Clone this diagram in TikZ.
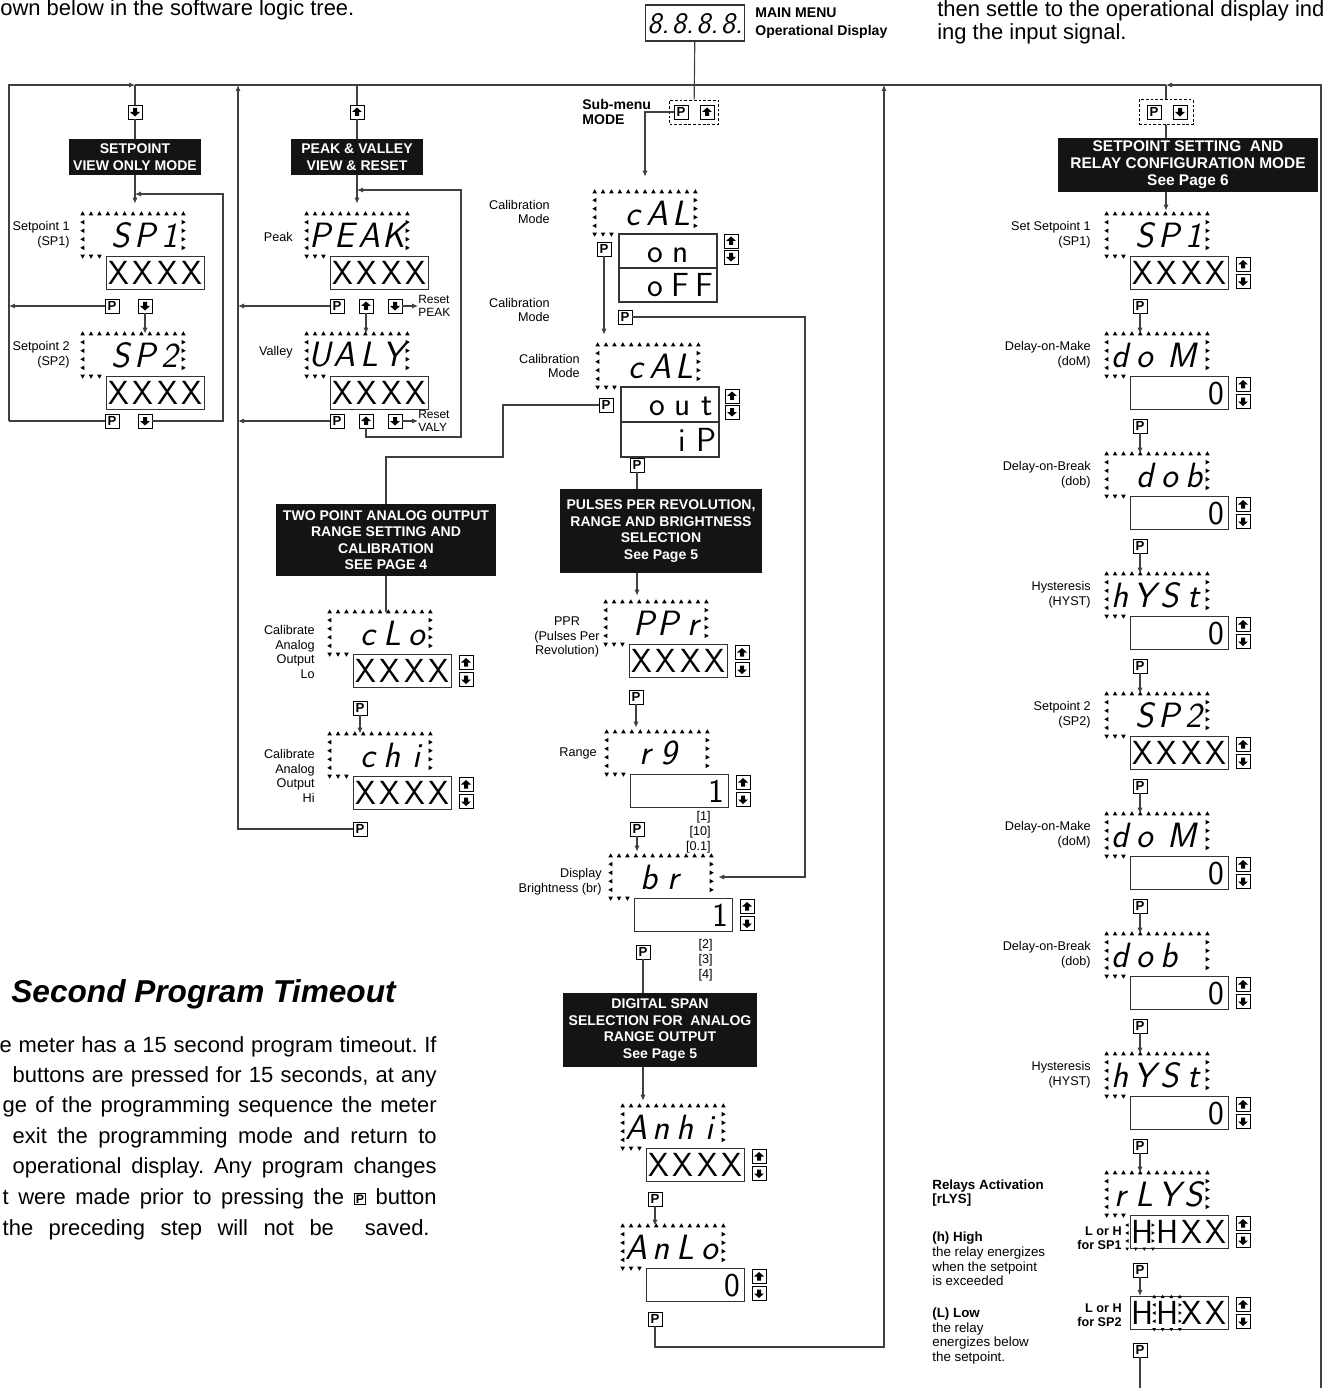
\documentclass[tikz,border=0pt]{standalone}
\usepackage{fontspec}
\setmainfont{Liberation Sans}
\usetikzlibrary{arrows.meta,calc}

% one digit cell of the meter display
\newcommand\cell[1]{\makebox[0.49cm]{\vphantom{X}#1}}
\newcommand\twocell[1]{\makebox[0.98cm]{\vphantom{X}#1}}
\newcommand\lcdX{\cell{X}\cell{X}\cell{X}\cell{X}}
\newcommand\lcdO{\cell{}\cell{}\cell{}\cell{0}}
\newcommand\lcdI{\cell{}\cell{}\cell{}\cell{1}}
\newcommand\pbtn{\raisebox{0.5pt}{\setlength\fboxsep{0.7pt}\setlength\fboxrule{0.5pt}\fbox{\fontsize{7}{7}\selectfont\bfseries P}}}

% flashing frame round a display node
\newcommand\flash[1]{%
  \foreach \i in {0,...,12} \pic at ($(#1.north west)!\i/12!(#1.north east)$) {tri};
  \foreach \i in {1,...,4} {
    \pic[rotate=90] at ($(#1.north west)!\i/5!(#1.south west)$) {tri};
    \pic[rotate=-90] at ($(#1.north east)!\i/5!(#1.south east)$) {tri};}
  \foreach \i in {0,1,2} \pic[rotate=180] at ($(#1.south west)!\i/12!(#1.south east)$) {tri};}
\newcommand\flashcell[1]{%
  \foreach \i in {1,2,3} {
    \pic[rotate=90,scale=0.8] at ($(#1.north west)!\i/4!(#1.south west)$) {tri};
    \pic[rotate=-90,scale=0.8] at ($(#1.north east)!\i/4!(#1.south east)$) {tri};}
  \foreach \i in {0,...,3} \pic[rotate=180,scale=0.8] at ($(#1.south west)!\i/3!(#1.south east)$) {tri};}
% display with its value box
\newcommand\menu[5]{%
  \node[dsp] (#1) at (#2,#3) {#4};
  \node[lcd] (#1v) at ($(#1)+(22.5,38)$) {#5};
  \flash{#1}}
\newcommand\updown[1]{%
  \node[upk] (#1u) at ($(#1v.east)+(14,-8.5)$) {};
  \node[dnk] (#1d) at ($(#1v.east)+(14,8.5)$) {};}

\tikzset{
  wire/.style={draw=black!75, line width=0.65pt},
  arr/.style={wire, -{Latex[length=1.2mm,width=1.05mm]}},
  key/.style={draw, line width=0.55pt, fill=white, minimum size=0.28cm, inner sep=0pt},
  pk/.style={key, font=\bfseries\fontsize{7.5}{7.5}\selectfont},
  upk/.style={key, path picture={\fill[black] ([yshift=0.09cm]path picture bounding box.center) -- ++(-0.1cm,-0.09cm) -- ++(0.06cm,0) -- ++(0,-0.08cm) -- ++(0.08cm,0) -- ++(0,0.08cm) -- ++(0.06cm,0) -- cycle;}},
  dnk/.style={key, path picture={\fill[black] ([yshift=-0.09cm]path picture bounding box.center) -- ++(-0.1cm,0.09cm) -- ++(0.06cm,0) -- ++(0,0.08cm) -- ++(0.08cm,0) -- ++(0,-0.08cm) -- ++(0.06cm,0) -- cycle;}},
  head/.style={fill=black!92, text=white, font=\bfseries\fontsize{8}{9.4}\selectfont, align=center, inner sep=0pt},
  dsp/.style={minimum width=2cm, minimum height=0.84cm, inner sep=0pt, font=\sffamily\slshape\fontsize{20}{20}\selectfont},
  lcd/.style={draw=black!80, line width=0.6pt, minimum width=1.94cm, minimum height=0.66cm, inner sep=0pt, font=\sffamily\fontsize{19}{19}\selectfont},
  lbl/.style={anchor=east, align=right, inner sep=0pt, font=\fontsize{7.2}{8.4}\selectfont},
  note/.style={anchor=west, align=left, inner sep=0pt, font=\fontsize{7.6}{8.3}\selectfont},
  dbox/.style={draw, line width=0.5pt, dash pattern=on 1.6pt off 1.1pt},
  tri/.pic={\fill (-2.3,1.7) -- (2.3,1.7) -- (0,-2.4) -- cycle;}
}

\begin{document}
\begin{tikzpicture}[x=0.02cm,y=-0.02cm]
\useasboundingbox (0,0) rectangle (1324,1388);

% page text
\node[anchor=base west, inner sep=0pt, font=\fontsize{12.5}{15}\selectfont] (intro) at (0,16) {own below in the software logic tree.};
\node[anchor=base west, inner sep=0pt, font=\fontsize{12.5}{15}\selectfont] (introR) at (937,17) {then settle to the operational display ind};
\node[anchor=base west, inner sep=0pt, font=\fontsize{12.5}{15}\selectfont] (introS) at (937,40) {ing the input signal.};

% main menu
\node[lcd, minimum width=1.98cm, minimum height=0.72cm, font=\sffamily\slshape\fontsize{17}{17}\selectfont] (main) at (695,23) {\cell{8.}\cell{8.}\cell{8.}\cell{8.}};
\node[anchor=base west, inner sep=0pt, font=\bfseries\fontsize{8}{9.6}\selectfont] (mainLbl) at (755,18) {MAIN MENU};
\node[anchor=base west, inner sep=0pt, font=\bfseries\fontsize{8}{9.6}\selectfont] (mainSub) at (755,36) {Operational Display};
\coordinate (busL) at (135,85);
\coordinate (busR) at (1166,85);
\draw[wire] (busL) -- (busR);

% setpoint view only
\node[dnk] (svDn) at (135,112) {};
\node[head, minimum width=2.66cm, minimum height=0.72cm] (svHead) at (135,157) {SETPOINT\\VIEW ONLY MODE};
\menu{svA}{133}{235}{\cell{}\cell{S}\cell{P}\cell{1}}{\lcdX}
\node[lbl] (svAl) at (70,235) {Setpoint 1\\(SP1)};
\node[pk] (svP1) at (112,306) {P};
\node[dnk] (svD1) at (145,306) {};
\menu{svB}{133}{355}{\cell{}\cell{S}\cell{P}\cell{2}}{\lcdX}
\node[lbl] (svBl) at (70,355) {Setpoint 2\\(SP2)};
\node[pk] (svP2) at (112,421) {P};
\node[dnk] (svD2) at (145,421) {};
\coordinate (svL1) at (9,306);
\coordinate (svL2) at (9,421);
\coordinate (svR) at (223,194);
\draw[wire] (busL) -- (svDn);
\draw[wire] (svDn) -- (svHead);
\draw[arr, shorten >=0.2cm] (svHead) -- (svHead |- svA.north);
\draw[arr] (svP1) -- (svL1);
\draw[arr] (svD1) -- (svD1 |- svB.north);
\draw[wire] (svP2) -- (svL2);
\draw[arr] (svL2) |- (busL);
\draw[arr] (svD2) -| (svR) -- (svHead.south |- svR);

% peak and valley
\coordinate (pvBus) at (357,85);
\node[upk] (pvUp) at (357,112) {};
\node[head, minimum width=2.66cm, minimum height=0.72cm] (pvHead) at (357,157) {PEAK \& VALLEY\\VIEW \& RESET};
\menu{pvA}{357}{235}{\cell{P}\cell{E}\cell{A}\cell{K}}{\lcdX}
\node[lbl] (pvAl) at (293,237) {Peak};
\node[pk] (pvP1) at (337,306) {P};
\node[upk] (pvU1) at (366,306) {};
\node[dnk] (pvD1) at (395,306) {};
\node[note, font=\fontsize{6.8}{7.4}\selectfont] (rstA) at (418,306) {Reset\\PEAK};
\menu{pvB}{357}{355}{\cell{U}\cell{A}\cell{L}\cell{Y}}{\lcdX}
\node[lbl] (pvBl) at (293,352) {Valley};
\node[pk] (pvP2) at (337,421) {P};
\node[upk] (pvU2) at (366,421) {};
\node[dnk] (pvD2) at (395,421) {};
\node[note, font=\fontsize{6.8}{7.4}\selectfont] (rstB) at (418,421) {Reset\\VALY};
\coordinate (pvTop) at (238,85);
\coordinate (pvL1) at (238,306);
\coordinate (pvL2) at (238,421);
\coordinate (pvLo) at (366,437);
\coordinate (pvRt) at (461,190);
\draw[wire] (pvBus) -- (pvUp);
\draw[wire] (pvUp) -- (pvHead);
\draw[arr, shorten >=0.2cm] (pvHead) -- (pvHead |- pvA.north);
\draw[arr] (pvP1) -- (pvL1);
\draw[arr] (pvD1) -- (rstA);
\draw[arr] (pvU1) -- (pvU1 |- pvB.north);
\draw[arr] (pvP2) -- (pvL2);
\draw[arr] (pvD2) -- (rstB);
\draw[arr] (pvU2) -- (pvLo) -| (pvRt) -- (pvHead.south |- pvRt);

% sub-menu and calibration
\node[dbox, minimum width=0.98cm, minimum height=0.48cm] (subBox) at (694,112) {};
\node[pk] (subP) at (681,112) {P};
\node[upk] (subU) at (707,112) {};
\node[anchor=west, align=left, inner sep=0pt, font=\bfseries\fontsize{8}{9}\selectfont] (subLbl) at (582,112) {Sub-menu\\MODE};
\draw[wire] (main) -- (subBox);
\node[dsp] (calA) at (645,213) {\cell{}\cell{c}\cell{A}\cell{L}};
\flash{calA}
\node[lcd, minimum height=0.68cm] (calAv) at (668,251) {\cell{}\cell{o}\cell{n}\cell{}};
\node[lcd, minimum height=0.68cm] (calAw) at (668,285) {\cell{}\cell{o}\cell{F}\cell{F}};
\node[upk] (calAu) at (731,241) {};
\node[dnk] (calAd) at (731,257) {};
\node[pk] (calAP) at (604,249) {P};
\node[lbl] (calAl) at (550,212) {Calibration\\Mode};
\node[pk] (calAQ) at (625,317) {P};
\node[lbl] (calAm) at (550,310) {Calibration\\Mode};
\node[dsp] (calB) at (648,366) {\cell{}\cell{c}\cell{A}\cell{L}};
\flash{calB}
\node[lcd, minimum height=0.7cm] (calBv) at (670,404.5) {\cell{}\cell{o}\cell{u}\cell{t}};
\node[lcd, minimum height=0.7cm] (calBw) at (670,439.5) {\cell{}\cell{}\cell{i}\cell{P}};
\node[upk] (calBu) at (732,396) {};
\node[dnk] (calBd) at (732,412) {};
\node[pk] (calBP) at (606,405) {P};
\node[lbl] (calBl) at (580,366) {Calibration\\Mode};
\node[pk] (calBQ) at (637,465) {P};
\draw[arr, shorten >=0.3cm] (subP) -| (calA.north);
\draw[arr, shorten >=0.2cm] (calAP) -- (calAP |- calB.north);

% two point analog output
\node[head, minimum width=4.42cm, minimum height=1.44cm] (tpHead) at (386,540) {TWO POINT ANALOG OUTPUT\\RANGE SETTING AND\\CALIBRATION\\SEE PAGE 4};
\coordinate (tpBend) at (503,457);
\draw[wire] (calBP) -| (tpBend) -| (tpHead.north);
\menu{clo}{380}{633}{\cell{}\cell{c}\cell{L}\cell{o}}{\lcdX}
\updown{clo}
\node[lbl] (clol) at (315,652) {Calibrate\\Analog\\Output\\Lo};
\node[pk] (cloP) at (360,708) {P};
\menu{chi}{380}{755}{\cell{}\cell{c}\cell{h}\cell{i}}{\lcdX}
\updown{chi}
\node[lbl] (chil) at (315,776) {Calibrate\\Analog\\Output\\Hi};
\node[pk] (chiP) at (360,829) {P};
\draw[wire] (tpHead) -- (tpHead |- clo.north);
\draw[arr] (cloP) -- (cloP |- chi.north);
\draw[arr] (chiP) -| (pvTop);

% pulses per revolution, range, brightness
\node[head, minimum width=4.04cm, minimum height=1.68cm] (ppHead) at (661,531) {PULSES PER REVOLUTION,\\RANGE AND BRIGHTNESS\\SELECTION\\See Page 5};
\draw[wire] (calBQ) -- (calBQ |- ppHead.north);
\menu{ppr}{656}{623}{\cell{}\cell{P}\cell{P}\cell{r}}{\lcdX}
\updown{ppr}
\draw[arr, shorten >=0.12cm] (calBQ |- ppHead.south) -- (calBQ |- ppr.north);
\node[align=center, inner sep=0pt, font=\fontsize{7.2}{8.2}\selectfont] (pprl) at (567,637) {PPR\\(Pulses Per\\Revolution)};
\node[pk] (pprP) at (636,697) {P};
\menu{rg}{657}{753}{\cell{}\cell{r}\cell{9}\cell{}}{\lcdI}
\updown{rg}
\draw[arr, shorten >=0.08cm] (pprP) -- (pprP |- rg.north);
\node[lbl] (rgl) at (597,753) {Range};
\node[lbl] (rgo) at (711,832) {{[1]}\\{[10]}\\{[0.1]}};
\node[pk] (rgP) at (637,829) {P};
\menu{br}{661}{877}{\cell{}\cell{b}\cell{r}\cell{}}{\lcdI}
\updown{br}
\draw[arr, shorten >=0.08cm] (rgP) -- (rgP |- br.north);
\node[lbl] (brl) at (602,882) {Display\\Brightness (br)};
\node[lbl] (bro) at (713,960) {{[2]}\\{[3]}\\{[4]}};
\node[pk] (brP) at (643,952) {P};
\coordinate (brR) at (805,317);
\draw[arr, shorten >=0.14cm] (calAQ) -- (brR) |- (br.east);

% digital span
\node[head, minimum width=3.88cm, minimum height=1.48cm] (dsHead) at (660,1030) {DIGITAL SPAN\\SELECTION FOR~~ANALOG\\RANGE OUTPUT\\See Page 5};
\draw[wire] (brP) -- (brP |- dsHead.north);
\menu{anhi}{673}{1127}{\cell{A}\cell{n}\cell{h}\cell{i}}{\lcdX}
\updown{anhi}
\draw[arr, shorten >=0.1cm] (brP |- dsHead.south) -- (brP |- anhi.north);
\node[pk] (anhiP) at (655,1199) {P};
\menu{anlo}{673}{1247}{\cell{A}\cell{n}\cell{L}\cell{o}}{\lcdO}
\updown{anlo}
\draw[arr] (anhiP) -- (anhiP |- anlo.north);
\node[pk] (anloP) at (655,1319) {P};
\coordinate (ctrBot) at (884,1347);
\coordinate (ctrTop) at (884,85);
\draw[arr] (anloP) |- (ctrBot) -- (ctrTop);

% setpoint setting and relay configuration
\node[dbox, minimum width=1.08cm, minimum height=0.5cm] (srBox) at (1166,112) {};
\node[pk] (srP) at (1154,112) {P};
\node[dnk] (srD) at (1180,112) {};
\node[head, minimum width=5.22cm, minimum height=1.08cm, font=\bfseries\fontsize{8.8}{9.6}\selectfont] (srHead) at (1188,165) {SETPOINT SETTING~~AND\\RELAY CONFIGURATION MODE\\See Page 6};
\coordinate (edgeTop) at (1321,85);
\coordinate (edgeBot) at (1321,1392);
\draw[arr] (edgeBot) -- (edgeTop) -- (busR);
\draw[wire] (busR) -- (srBox);
\draw[wire] (srBox) -- (srBox |- srHead.north);
\foreach \nm/\k/\dtop/\dval/\dtxt in {
  rA/0/{\cell{}\cell{S}\cell{P}\cell{1}}/\lcdX/{Set Setpoint 1\\(SP1)},
  rB/1/{\cell{d}\cell{o}\twocell{M}}/\lcdO/{Delay-on-Make\\(doM)},
  rC/2/{\cell{}\cell{d}\cell{o}\cell{b}}/\lcdO/{Delay-on-Break\\(dob)},
  rD/3/{\cell{h}\cell{Y}\cell{S}\cell{t}}/\lcdO/{Hysteresis\\(HYST)},
  rE/4/{\cell{}\cell{S}\cell{P}\cell{2}}/\lcdX/{Setpoint 2\\(SP2)},
  rF/5/{\cell{d}\cell{o}\twocell{M}}/\lcdO/{Delay-on-Make\\(doM)},
  rG/6/{\cell{d}\cell{o}\cell{b}\cell{}}/\lcdO/{Delay-on-Break\\(dob)},
  rH/7/{\cell{h}\cell{Y}\cell{S}\cell{t}}/\lcdO/{Hysteresis\\(HYST)}}
{
  \menu{\nm}{1157}{235+120*\k}{\dtop}{\dval}
  \updown{\nm}
  \node[lbl] (\nm l) at (1091,235+120*\k) {\dtxt};
  \node[pk] (\nm p) at (1140,306+120*\k) {P};
}
\draw[arr, shorten >=0.06cm] (srBox |- srHead.south) -- (srBox |- rA.north);
% relays
\node[dsp] (rI) at (1157,1194) {\cell{r}\cell{L}\cell{Y}\cell{S}};
\node[lcd] (rIv) at ($(rI)+(22.5,38)$) {\cell{H}\cell{H}\cell{X}\cell{X}};
\flash{rI}
\updown{rI}
\node[inner sep=0pt, minimum width=0.5cm, minimum height=0.62cm] (hA) at (1140,1233) {};
\flashcell{hA}
\node[lbl, font=\bfseries\fontsize{7.2}{8.2}\selectfont] (rIl) at (1122,1238) {L or H\\for SP1};
\node[pk] (rIp) at (1140,1270) {P};
\node[lcd] (rJv) at (1179.5,1313) {\cell{H}\cell{H}\cell{X}\cell{X}};
\updown{rJ}
\node[inner sep=0pt, minimum width=0.5cm, minimum height=0.64cm] (hB) at (1167,1313) {};
\flashcell{hB}
\foreach \i in {0,...,3} \pic[scale=0.8] at ($(hB.north west)!\i/3!(hB.north east)$) {tri};
\node[lbl, font=\bfseries\fontsize{7.2}{8.2}\selectfont] (rJl) at (1122,1315) {L or H\\for SP2};
\node[pk] (rJp) at (1140,1350) {P};
\coordinate (rEnd) at (1140,1392);
\foreach \ua/\ub in {rA/rB,rB/rC,rC/rD,rD/rE,rE/rF,rF/rG,rG/rH,rH/rI}
  \draw[arr] (\ua p) -- (\ua p |- \ub.north);
\draw[arr] (rIp) -- (rIp |- rJv.north);
\draw[wire] (rJp) -- (rEnd);
\node[note, font=\bfseries\fontsize{7.6}{8.3}\selectfont] (rlyHd) at (932,1193) {Relays Activation\\{}[rLYS]};
\node[note] (rlyHi) at (932,1259) {\textbf{(h) High}\\the relay energizes\\when the setpoint\\is exceeded};
\node[note] (rlyLo) at (932,1336) {\textbf{(L) Low}\\the relay\\energizes below\\the setpoint.};

% program timeout text
\node[anchor=base west, inner sep=0pt, font=\bfseries\itshape\fontsize{18}{20}\selectfont] (toTitle) at (11,1002) {Second Program Timeout};
\node[anchor=base east, inner sep=0pt, font=\frenchspacing\fontsize{12.5}{15}\selectfont] (to1) at (437,1052) {\makebox[8.74cm][s]{e meter has a 15 second program timeout. If}};
\node[anchor=base east, inner sep=0pt, font=\frenchspacing\fontsize{12.5}{15}\selectfont] (to2) at (437,1082) {\makebox[8.48cm][s]{buttons are pressed for 15 seconds, at any}};
\node[anchor=base east, inner sep=0pt, font=\frenchspacing\fontsize{12.5}{15}\selectfont] (to3) at (437,1112) {\makebox[8.68cm][s]{ge of the programming sequence the meter}};
\node[anchor=base east, inner sep=0pt, font=\frenchspacing\fontsize{12.5}{15}\selectfont] (to4) at (437,1143) {\makebox[8.48cm][s]{exit the programming mode and return to}};
\node[anchor=base east, inner sep=0pt, font=\frenchspacing\fontsize{12.5}{15}\selectfont] (to5) at (437,1173) {\makebox[8.48cm][s]{operational display. Any program changes}};
\node[anchor=base east, inner sep=0pt, font=\frenchspacing\fontsize{12.5}{15}\selectfont] (to6) at (437,1204) {\makebox[8.68cm][s]{t were made prior to pressing the \pbtn\ button}};
\node[anchor=base east, inner sep=0pt, font=\frenchspacing\fontsize{12.5}{15}\selectfont] (to7) at (430,1235) {\makebox[8.54cm][s]{the preceding step will not be~ saved.}};
\end{tikzpicture}
\end{document}
